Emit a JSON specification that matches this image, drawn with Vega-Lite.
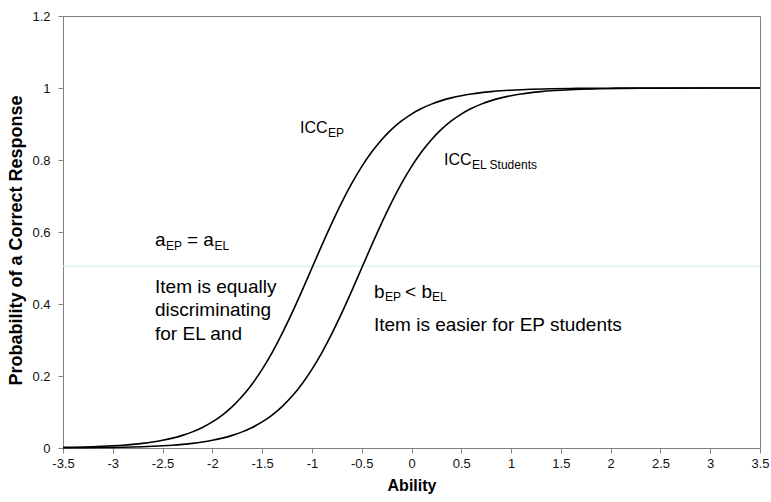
{
  "$schema": "https://vega.github.io/schema/vega-lite/v6.json",
  "width": 697,
  "height": 432,
  "autosize": {"type": "none"},
  "padding": {"left": 63, "top": 16, "right": 11, "bottom": 54},
  "background": "white",
  "config": {"view": {"stroke": "#808080", "strokeWidth": 1}, "font": "Liberation Sans"},
  "datasets": {
    "ref": [{"x": -3.5, "y": 0.505}, {"x": 3.5, "y": 0.505}],
    "curves": [
      {"c": "EP", "x": -3.5, "y": 0.0017}, {"c": "EP", "x": -3.4, "y": 0.0022}, {"c": "EP", "x": -3.3, "y": 0.0028},
      {"c": "EP", "x": -3.2, "y": 0.0036}, {"c": "EP", "x": -3.1, "y": 0.0047}, {"c": "EP", "x": -3.0, "y": 0.0061},
      {"c": "EP", "x": -2.9, "y": 0.0078}, {"c": "EP", "x": -2.8, "y": 0.0101}, {"c": "EP", "x": -2.7, "y": 0.0129},
      {"c": "EP", "x": -2.6, "y": 0.0166}, {"c": "EP", "x": -2.5, "y": 0.0214}, {"c": "EP", "x": -2.4, "y": 0.0274},
      {"c": "EP", "x": -2.3, "y": 0.0351}, {"c": "EP", "x": -2.2, "y": 0.0448}, {"c": "EP", "x": -2.1, "y": 0.0571},
      {"c": "EP", "x": -2.0, "y": 0.0724}, {"c": "EP", "x": -1.9, "y": 0.0916}, {"c": "EP", "x": -1.8, "y": 0.1151},
      {"c": "EP", "x": -1.7, "y": 0.1437}, {"c": "EP", "x": -1.6, "y": 0.178}, {"c": "EP", "x": -1.5, "y": 0.2184},
      {"c": "EP", "x": -1.4, "y": 0.265}, {"c": "EP", "x": -1.3, "y": 0.3176}, {"c": "EP", "x": -1.2, "y": 0.3752},
      {"c": "EP", "x": -1.1, "y": 0.4366}, {"c": "EP", "x": -1.0, "y": 0.5}, {"c": "EP", "x": -0.9, "y": 0.5634},
      {"c": "EP", "x": -0.8, "y": 0.6248}, {"c": "EP", "x": -0.7, "y": 0.6824}, {"c": "EP", "x": -0.6, "y": 0.735},
      {"c": "EP", "x": -0.5, "y": 0.7816}, {"c": "EP", "x": -0.4, "y": 0.822}, {"c": "EP", "x": -0.3, "y": 0.8563},
      {"c": "EP", "x": -0.2, "y": 0.8849}, {"c": "EP", "x": -0.1, "y": 0.9084}, {"c": "EP", "x": 0.0, "y": 0.9276},
      {"c": "EP", "x": 0.1, "y": 0.9429}, {"c": "EP", "x": 0.2, "y": 0.9552}, {"c": "EP", "x": 0.3, "y": 0.9649},
      {"c": "EP", "x": 0.4, "y": 0.9726}, {"c": "EP", "x": 0.5, "y": 0.9786}, {"c": "EP", "x": 0.6, "y": 0.9834},
      {"c": "EP", "x": 0.7, "y": 0.9871}, {"c": "EP", "x": 0.8, "y": 0.9899}, {"c": "EP", "x": 0.9, "y": 0.9922},
      {"c": "EP", "x": 1.0, "y": 0.9939}, {"c": "EP", "x": 1.2, "y": 0.9964}, {"c": "EP", "x": 1.4, "y": 0.9978},
      {"c": "EP", "x": 1.6, "y": 0.9987}, {"c": "EP", "x": 1.8, "y": 0.9992}, {"c": "EP", "x": 2.0, "y": 0.9995},
      {"c": "EP", "x": 2.5, "y": 0.9999}, {"c": "EP", "x": 3.0, "y": 1.0}, {"c": "EP", "x": 3.5, "y": 1.0},
      {"c": "EL", "x": -3.5, "y": 0.0005}, {"c": "EL", "x": -3.3, "y": 0.0008}, {"c": "EL", "x": -3.1, "y": 0.0013},
      {"c": "EL", "x": -3.0, "y": 0.0017}, {"c": "EL", "x": -2.9, "y": 0.0022}, {"c": "EL", "x": -2.8, "y": 0.0028},
      {"c": "EL", "x": -2.7, "y": 0.0036}, {"c": "EL", "x": -2.6, "y": 0.0047}, {"c": "EL", "x": -2.5, "y": 0.0061},
      {"c": "EL", "x": -2.4, "y": 0.0078}, {"c": "EL", "x": -2.3, "y": 0.0101}, {"c": "EL", "x": -2.2, "y": 0.0129},
      {"c": "EL", "x": -2.1, "y": 0.0166}, {"c": "EL", "x": -2.0, "y": 0.0214}, {"c": "EL", "x": -1.9, "y": 0.0274},
      {"c": "EL", "x": -1.8, "y": 0.0351}, {"c": "EL", "x": -1.7, "y": 0.0448}, {"c": "EL", "x": -1.6, "y": 0.0571},
      {"c": "EL", "x": -1.5, "y": 0.0724}, {"c": "EL", "x": -1.4, "y": 0.0916}, {"c": "EL", "x": -1.3, "y": 0.1151},
      {"c": "EL", "x": -1.2, "y": 0.1437}, {"c": "EL", "x": -1.1, "y": 0.178}, {"c": "EL", "x": -1.0, "y": 0.2184},
      {"c": "EL", "x": -0.9, "y": 0.265}, {"c": "EL", "x": -0.8, "y": 0.3176}, {"c": "EL", "x": -0.7, "y": 0.3752},
      {"c": "EL", "x": -0.6, "y": 0.4366}, {"c": "EL", "x": -0.5, "y": 0.5}, {"c": "EL", "x": -0.4, "y": 0.5634},
      {"c": "EL", "x": -0.3, "y": 0.6248}, {"c": "EL", "x": -0.2, "y": 0.6824}, {"c": "EL", "x": -0.1, "y": 0.735},
      {"c": "EL", "x": 0.0, "y": 0.7816}, {"c": "EL", "x": 0.1, "y": 0.822}, {"c": "EL", "x": 0.2, "y": 0.8563},
      {"c": "EL", "x": 0.3, "y": 0.8849}, {"c": "EL", "x": 0.4, "y": 0.9084}, {"c": "EL", "x": 0.5, "y": 0.9276},
      {"c": "EL", "x": 0.6, "y": 0.9429}, {"c": "EL", "x": 0.7, "y": 0.9552}, {"c": "EL", "x": 0.8, "y": 0.9649},
      {"c": "EL", "x": 0.9, "y": 0.9726}, {"c": "EL", "x": 1.0, "y": 0.9786}, {"c": "EL", "x": 1.1, "y": 0.9834},
      {"c": "EL", "x": 1.2, "y": 0.9871}, {"c": "EL", "x": 1.3, "y": 0.9899}, {"c": "EL", "x": 1.4, "y": 0.9922},
      {"c": "EL", "x": 1.5, "y": 0.9939}, {"c": "EL", "x": 1.7, "y": 0.9964}, {"c": "EL", "x": 1.9, "y": 0.9978},
      {"c": "EL", "x": 2.1, "y": 0.9987}, {"c": "EL", "x": 2.3, "y": 0.9992}, {"c": "EL", "x": 2.5, "y": 0.9995},
      {"c": "EL", "x": 3.0, "y": 0.9999}, {"c": "EL", "x": 3.5, "y": 1.0}
    ],
    "icc": [
      {"t": "ICC", "x": -1.12, "y": 0.875},
      {"t": "ICC", "x": 0.326, "y": 0.786}
    ],
    "labels": [
      {"t": "a", "x": -2.576, "y": 0.561},
      {"t": "= a", "x": -2.255, "y": 0.561},
      {"t": "Item is equally", "x": -2.576, "y": 0.431},
      {"t": "discriminating", "x": -2.576, "y": 0.3675},
      {"t": "for EL and", "x": -2.576, "y": 0.3},
      {"t": "b", "x": -0.377, "y": 0.4167},
      {"t": "< b", "x": -0.065, "y": 0.4167},
      {"t": "Item is easier for EP students", "x": -0.377, "y": 0.325}
    ],
    "subs": [
      {"t": "EP", "x": -0.839, "y": 0.864},
      {"t": "EL Students", "x": 0.608, "y": 0.775},
      {"t": "EP", "x": -2.466, "y": 0.55},
      {"t": "EL", "x": -1.978, "y": 0.55},
      {"t": "EP", "x": -0.266, "y": 0.4083},
      {"t": "EL", "x": 0.206, "y": 0.4083}
    ]
  },
  "encoding": {
    "x": {
      "field": "x", "type": "quantitative",
      "scale": {"domain": [-3.5, 3.5], "nice": false, "zero": false},
      "axis": {
        "title": "Ability",
        "values": [-3.5, -3, -2.5, -2, -1.5, -1, -0.5, 0, 0.5, 1, 1.5, 2, 2.5, 3, 3.5],
        "labelExpr": "'' + datum.value",
        "grid": false, "domainColor": "#808080", "tickColor": "#808080", "tickSize": 5,
        "labelFontSize": 13, "labelColor": "#111111", "labelPadding": 4, "labelFlush": false,
        "titleFontSize": 16, "titleFontWeight": "bold", "titleColor": "black", "titlePadding": 7
      }
    },
    "y": {
      "field": "y", "type": "quantitative",
      "scale": {"domain": [0, 1.2], "nice": false},
      "axis": {
        "title": "Probability of a Correct Response",
        "values": [0, 0.2, 0.4, 0.6, 0.8, 1, 1.2],
        "labelExpr": "'' + datum.value",
        "grid": false, "domainColor": "#808080", "tickColor": "#808080", "tickSize": 5,
        "labelFontSize": 13, "labelColor": "#111111", "labelPadding": 8, "labelFlush": false,
        "titleFontSize": 18, "titleFontWeight": "bold", "titleColor": "black", "titlePadding": 6, "titleY": 224
      }
    }
  },
  "layer": [
    {"data": {"name": "ref"}, "mark": {"type": "line", "color": "#c4f0f0", "strokeWidth": 1}, "encoding": {}},
    {"data": {"name": "curves"}, "mark": {"type": "line", "color": "black", "strokeWidth": 1.6, "interpolate": "monotone"}, "encoding": {"detail": {"field": "c"}}},
    {"data": {"name": "icc"}, "mark": {"type": "text", "align": "left", "baseline": "alphabetic", "fontSize": 16, "color": "black"}, "encoding": {"text": {"field": "t"}}},
    {"data": {"name": "labels"}, "mark": {"type": "text", "align": "left", "baseline": "alphabetic", "fontSize": 19, "color": "black"}, "encoding": {"text": {"field": "t"}}},
    {"data": {"name": "subs"}, "mark": {"type": "text", "align": "left", "baseline": "alphabetic", "fontSize": 12, "color": "black"}, "encoding": {"text": {"field": "t"}}}
  ]
}
